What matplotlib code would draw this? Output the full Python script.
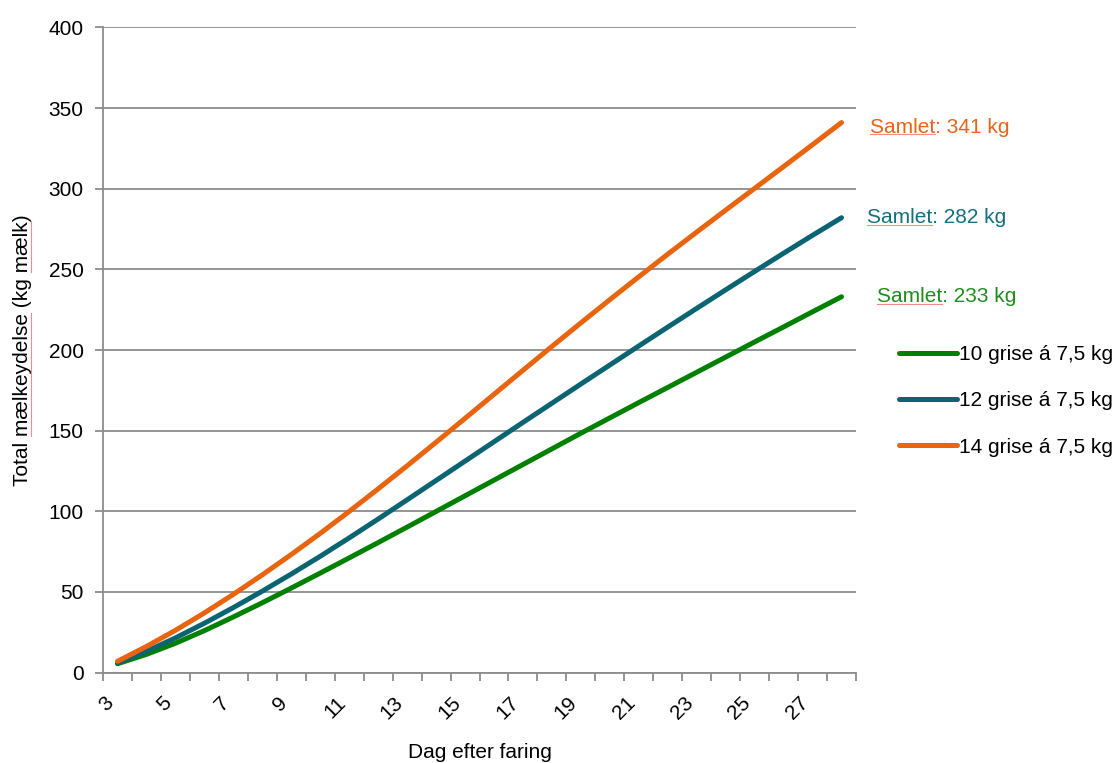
import matplotlib
matplotlib.use("Agg")
import matplotlib.pyplot as plt
from matplotlib.ticker import FixedLocator
from matplotlib.lines import Line2D
from matplotlib.font_manager import FontProperties

plt.rcParams['font.family'] = ['Liberation Sans', 'DejaVu Sans']

days = list(range(3, 29))
green_10 = [5.5, 11.3, 18.2, 26.0, 34.5, 43.3, 52.4, 61.7, 71.1, 80.6, 90.2, 99.9, 109.6,
            119.3, 129.0, 138.7, 148.4, 157.9, 167.4, 176.8, 186.2, 195.6, 205.0, 214.3,
            223.7, 233.0]
teal_12 = [6.0, 13.2, 21.5, 30.6, 40.3, 50.5, 61.1, 72.1, 83.5, 95.2, 107.1, 119.1, 131.1,
           143.1, 155.1, 167.0, 178.9, 190.7, 202.5, 214.2, 225.8, 237.3, 248.7, 260.0,
           271.1, 282.0]
orange_14 = [7.0, 16.2, 26.2, 37.0, 48.5, 60.6, 73.2, 86.3, 99.9, 113.9, 128.2, 142.8,
             157.6, 172.5, 187.4, 202.2, 216.8, 231.2, 245.4, 259.4, 273.1, 286.7, 300.2,
             313.7, 327.3, 341.0]

series_labels = ["10 grise á 7,5 kg", "12 grise á 7,5 kg", "14 grise á 7,5 kg"]
totals_text = ["Samlet: 233 kg", "Samlet: 282 kg", "Samlet: 341 kg"]
colors = ["#008000", "#0B6472", "#E8640F"]
text_colors = ["#1E8C1E", "#12707F", "#E8641B"]
x_tick_days = list(range(3, 28, 2))
y_ticks = [0, 50, 100, 150, 200, 250, 300, 350, 400]

FS = 15
fig = plt.figure(figsize=(11.18, 7.63), dpi=100)
ax = fig.add_axes([103/1118, 1-672.6/763, (856-103)/1118, (672.6-27.4)/763])

grid_c = "#8C8C8C"
ax.set_xlim(2.5, 28.5)
ax.set_ylim(0, 400)
ax.set_yticks(y_ticks)
ax.yaxis.grid(True, color=grid_c, linewidth=1.3)
ax.set_axisbelow(True)
for s in ["top", "right"]:
    ax.spines[s].set_visible(False)
for s in ["left", "bottom"]:
    ax.spines[s].set_color(grid_c)
    ax.spines[s].set_linewidth(1.3)

ax.set_xticks(x_tick_days)
ax.set_xticklabels([str(d) for d in x_tick_days], rotation=45, ha="right", fontsize=FS)
ax.xaxis.set_minor_locator(FixedLocator([d - 0.5 for d in days] + [days[-1] + 0.5]))
ax.tick_params(axis="x", which="major", length=0, pad=15)
ax.tick_params(axis="x", which="minor", length=6, width=1.3, color=grid_c)
ax.tick_params(axis="y", length=6, width=1.3, color=grid_c, labelsize=FS, pad=8)

handles = []
for vals, lab, c in zip([green_10, teal_12, orange_14], series_labels, colors):
    h, = ax.plot(days, vals, color=c, linewidth=3.6, solid_capstyle="round", label=lab)
    handles.append(h)

ends = [green_10[-1], teal_12[-1], orange_14[-1]]
offsets = [(25.4, 0), (18.2, 0), (20.4, -3.5)]
annots = []
for v, t, c, off in zip(ends, totals_text, text_colors, offsets):
    a = ax.annotate(t, xy=(days[-1], v), xytext=off, textcoords="offset points",
                    color=c, fontsize=FS, va="center", ha="left", annotation_clip=False)
    annots.append(a)

ax.set_xlabel("Dag efter faring", fontsize=FS, labelpad=14)
ylab = ax.set_ylabel("Total mælkeydelse (kg mælk)", fontsize=FS, labelpad=12)

fig.legend(handles=handles, labels=series_labels, loc="center left",
           bbox_to_anchor=(891/1118, 1-401/763), frameon=False, fontsize=FS,
           handlelength=2.75, handletextpad=0.1, labelspacing=1.3, borderaxespad=0)

# spell-check style underlines
fig.canvas.draw()
renderer = fig.canvas.get_renderer()
fp = FontProperties(family=['Liberation Sans', 'DejaVu Sans'], size=FS)
ul_c = "#F08C8C"
W, H = fig.bbox.width, fig.bbox.height


def tw(s):
    w, h, d = renderer.get_text_width_height_descent(s, fp, ismath=False)
    return w


for a in annots:
    bb = a.get_window_extent(renderer)
    x0 = bb.x0
    x1 = bb.x0 + tw("Samlet")
    y = bb.y0 + 2.5
    fig.add_artist(Line2D([x0 / W, x1 / W], [y / H, y / H], transform=fig.transFigure,
                          color=ul_c, linewidth=0.8))

bb = ylab.get_window_extent(renderer)
xl = bb.x1 - 1
for start, word in [("Total ", "mælkeydelse"), ("Total mælkeydelse (kg ", "mælk")]:
    y0 = bb.y0 + tw(start)
    y1 = y0 + tw(word)
    fig.add_artist(Line2D([xl / W, xl / W], [y0 / H, y1 / H], transform=fig.transFigure,
                          color=ul_c, linewidth=0.8))

fig.savefig("out.png", dpi=100)
